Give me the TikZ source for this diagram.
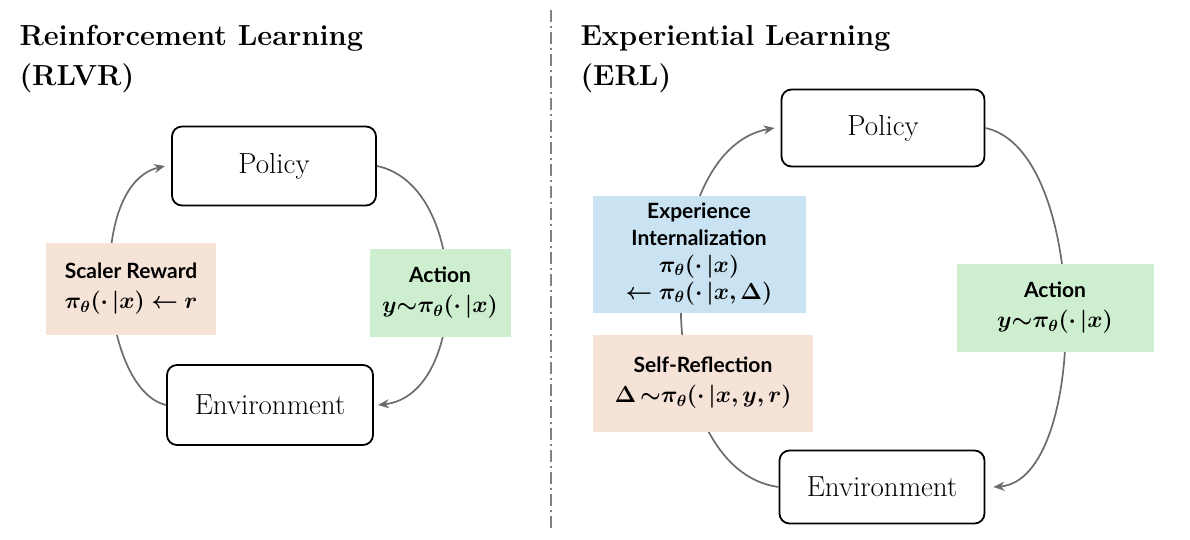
\documentclass[tikz,border=0pt]{standalone}
\usepackage{amsmath,bm,graphicx}
\usepackage{fontspec}
\newfontfamily\lab{Lato}
\newcommand\mymath[1]{\scalebox{1.12}{$\bm{#1}$}}
\usetikzlibrary{arrows.meta}
\definecolor{pk}{HTML}{F5E3D8}
\definecolor{gr}{HTML}{CDEFCF}
\definecolor{bl}{HTML}{C9E3F2}
\begin{document}
\begin{tikzpicture}[x=1pt,y=-1pt,
 box/.style={draw,line width=1.8pt,rounded corners=10pt,font=\fontsize{29}{34}\selectfont},
 lbl/.style={fill=#1,inner sep=0pt,align=center,font=\lab\bfseries\fontsize{21}{30}\selectfont},
 arc/.style={draw=gray!85!black,line width=1.7pt},
 tip/.style={arc,-{Stealth[length=11pt,width=9pt]}},
 ttl/.style={anchor=north west,align=left,font=\bfseries\fontsize{29}{40}\selectfont}]
\useasboundingbox (0,0) rectangle (1190,540);
\node[ttl] (t1) at (16,22) {Reinforcement Learning\\(RLVR)};
\node[ttl] (t2) at (577,22) {Experiential Learning\\(ERL)};
\coordinate (d1) at (551,10); \coordinate (d2) at (551,530);
\draw[gray,line width=1.3pt,dash pattern=on 12pt off 4pt on 2pt off 4pt] (d1) -- (d2);
% left
\node[box,minimum width=204pt,minimum height=79pt] (p1) at (274,166) {Policy};
\node[box,minimum width=206pt,minimum height=80pt] (e1) at (270,405) {Environment};
\draw[tip] (e1.west) .. controls (100,390) and (85,185) .. ([xshift=-6pt]p1.west);
\draw[tip] (p1.east) .. controls (470,185) and (470,395) .. ([xshift=4pt]e1.east);
\node[lbl=pk,minimum width=170pt,minimum height=92pt] (s1) at (131,289) {Scaler Reward\\\mymath{\pi_\theta(\cdot\,|x)\leftarrow r}};
\node[lbl=gr,minimum width=141pt,minimum height=88pt] (a1) at (440,293) {Action\\\mymath{y{\sim}\pi_\theta(\cdot\,|x)}};
% right
\node[box,minimum width=203pt,minimum height=77pt] (p2) at (883,128) {Policy};
\node[box,minimum width=205pt,minimum height=73pt] (e2) at (882,487) {Environment};
\draw[tip] (p2.east) .. controls (1090,150) and (1090,480) .. ([xshift=8pt]e2.east);
\draw[tip] (e2.west) .. controls (650,470) and (650,150) .. ([xshift=-6pt]p2.west);
\node[lbl=bl,minimum width=213pt,minimum height=117pt] (x2) at (699,254) {Experience\\[-3pt]Internalization\\[-3pt]\mymath{\pi_\theta(\cdot\,|x)}\\[-3pt]\mymath{\leftarrow\pi_\theta(\cdot\,|x,\Delta)}};
\node[lbl=pk,minimum width=220pt,minimum height=97pt] (s2) at (703,383) {Self-Reflection\\\mymath{\Delta\,{\sim}\pi_\theta(\cdot\,|x,y,r)}};
\node[lbl=gr,minimum width=197pt,minimum height=88pt] (a2) at (1055,308) {Action\\\mymath{y{\sim}\pi_\theta(\cdot\,|x)}};
\end{tikzpicture}
\end{document}
